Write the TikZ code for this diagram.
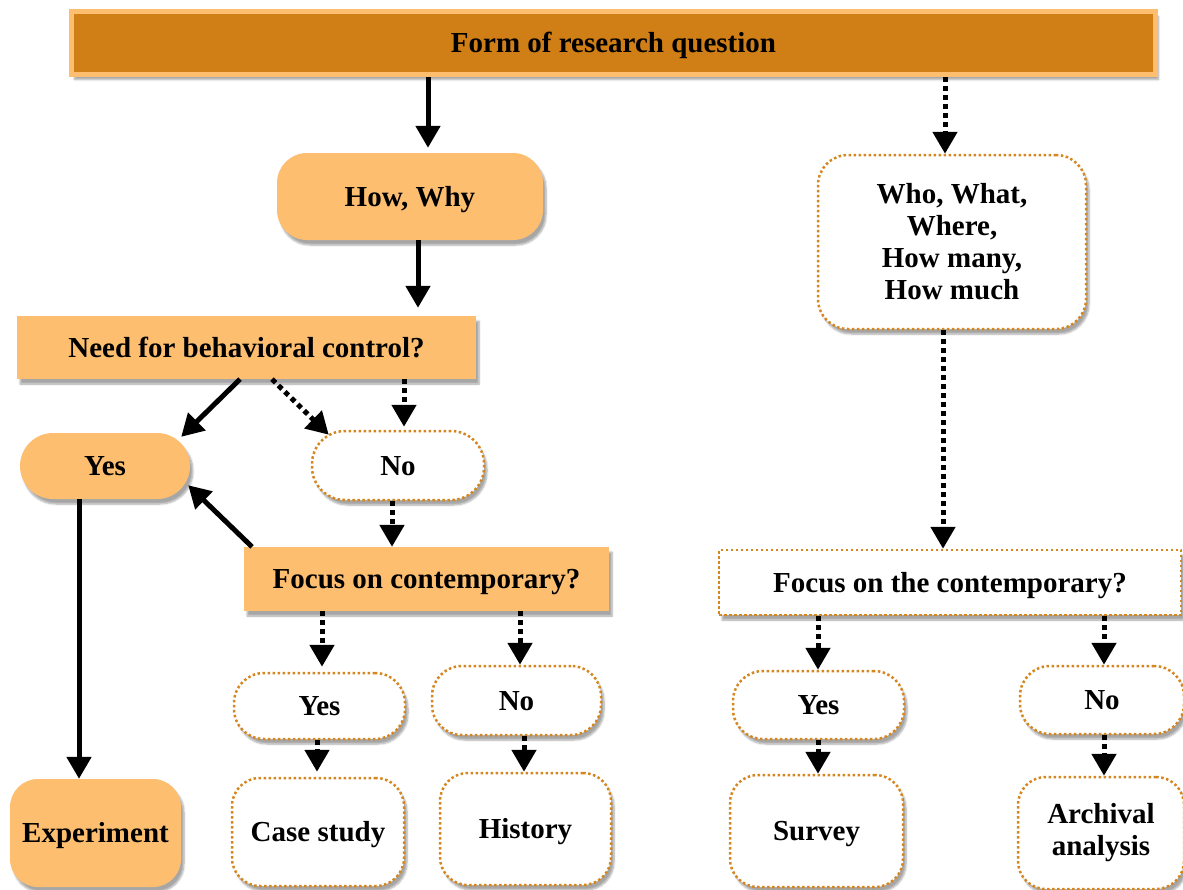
\documentclass[tikz,border=0pt]{standalone}
\usepackage{fontspec}
\setmainfont{Liberation Serif}
\usetikzlibrary{arrows.meta,calc,shadows.blur}
\definecolor{darkorange}{HTML}{D07E16}
\definecolor{lightorange}{HTML}{FDBE70}
\definecolor{dotorange}{HTML}{D5861F}

\tikzset{
  base/.style={inner sep=0pt, align=center,
    font=\fontsize{29}{32}\selectfont\bfseries,
    blur shadow={shadow xshift=3pt, shadow yshift=-5pt, shadow blur steps=6, shadow opacity=35}},
  oneline/.style={text height=19pt, text depth=0pt},
  filled/.style={base, fill=lightorange},
  open/.style={base, fill=white, draw=dotorange, line width=2.5pt, dash pattern=on 2.5pt off 2.5pt},
  solidarrow/.style={line width=5pt, -{Triangle[width=24pt,length=22pt]}},
  dotarrow/.style={line width=5pt, dash pattern=on 5pt off 4pt, -{Triangle[width=24pt,length=22pt]}},
}

\begin{document}
\begin{tikzpicture}[x=1pt,y=-1pt]
\useasboundingbox (0,0) rectangle (1183,889);

% title bar
\node[base, oneline, fill=darkorange, draw=lightorange, line width=5pt,
      minimum width=1084pt, minimum height=63pt] (top) at (613.5,43) {Form of research question};

% left branch
\node[filled, oneline, rounded corners=30pt, minimum width=266pt, minimum height=87pt] (howwhy) at (410,196.5) {How, Why};
\node[filled, oneline, minimum width=459pt, minimum height=63pt] (need) at (246.5,347.5) {Need for behavioral control?};
\node[filled, oneline, rounded corners=33pt, minimum width=170pt, minimum height=66pt] (yes1) at (105,466) {Yes};
\node[open, oneline, rounded corners=33pt, minimum width=172pt, minimum height=69pt] (no1) at (398,465.5) {No};
\node[filled, oneline, minimum width=365pt, minimum height=64pt] (focus1) at (426.5,579) {Focus on contemporary?};
\node[filled, oneline, rounded corners=28pt, minimum width=171pt, minimum height=108pt] (exp) at (95.5,833) {Experiment};
\node[open, oneline, rounded corners=30pt, minimum width=171pt, minimum height=66pt] (yes2) at (319.5,706) {Yes};
\node[open, oneline, rounded corners=30pt, minimum width=169pt, minimum height=69pt] (no2) at (516.5,700.5) {No};
\node[open, oneline, rounded corners=28pt, minimum width=172pt, minimum height=108pt] (case) at (318,832) {Case study};
\node[open, oneline, rounded corners=28pt, minimum width=171pt, minimum height=112pt] (hist) at (525.5,829) {History};

% right branch
\node[open, rounded corners=30pt, minimum width=268pt, minimum height=174pt] (who) at (952,242) {Who, What,\\Where,\\How many,\\How much};
\node[open, oneline, minimum width=462pt, minimum height=65pt] (focus2) at (950,582.5) {Focus on the contemporary?};
\node[open, oneline, rounded corners=30pt, minimum width=171pt, minimum height=68pt] (yes3) at (818.5,705) {Yes};
\node[open, oneline, rounded corners=30pt, minimum width=164pt, minimum height=68pt] (no3) at (1102,700) {No};
\node[open, oneline, rounded corners=28pt, minimum width=173pt, minimum height=112pt] (survey) at (816.5,831) {Survey};
\node[open, rounded corners=28pt, minimum width=166pt, minimum height=112pt] (arch) at (1101,833) {Archival\\analysis};

% connectors
\draw[solidarrow, shorten >=5pt] (top.south -| 428,0) -- (howwhy.north -| 428,0);
\draw[dotarrow] (top.south -| 945,0) -- (who.north -| 945,0);
\draw[solidarrow, shorten >=8pt] (howwhy.south -| 418,0) -- (need.north -| 418,0);
\draw[dotarrow] (who.south -| 943,0) -- (focus2.north -| 943,0);
\draw[solidarrow] (need.south -| 240,0) -- ($(yes1.north east)+(-9,4)$);
\draw[dotarrow] (need.south -| 272,0) -- ($(no1.north west)+(18,5)$);
\draw[dotarrow, shorten >=3pt] (need.south -| 404,0) -- (no1.north -| 404,0);
\draw[dotarrow] (no1.south -| 392,0) -- (focus1.north -| 392,0);
\draw[solidarrow] (focus1.north -| 252,0) -- ($(yes1.south east)+(-2,-14)$);
\draw[solidarrow] (yes1.south -| 79,0) -- (exp.north -| 79,0);
\draw[dotarrow, shorten >=5pt] (focus1.south -| 322,0) -- (yes2.north -| 322,0);
\draw[dotarrow] (focus1.south -| 520,0) -- (no2.north -| 520,0);
\draw[dotarrow, shorten >=5pt] (yes2.south -| 317,0) -- (case.north -| 317,0);
\draw[dotarrow] (no2.south -| 524,0) -- (hist.north -| 524,0);
\draw[dotarrow] (focus2.south -| 818,0) -- (yes3.north -| 818,0);
\draw[dotarrow] (focus2.south -| 1104,0) -- (no3.north -| 1104,0);
\draw[dotarrow] (yes3.south -| 818,0) -- (survey.north -| 818,0);
\draw[dotarrow] (no3.south -| 1104,0) -- (arch.north -| 1104,0);
\end{tikzpicture}
\end{document}
